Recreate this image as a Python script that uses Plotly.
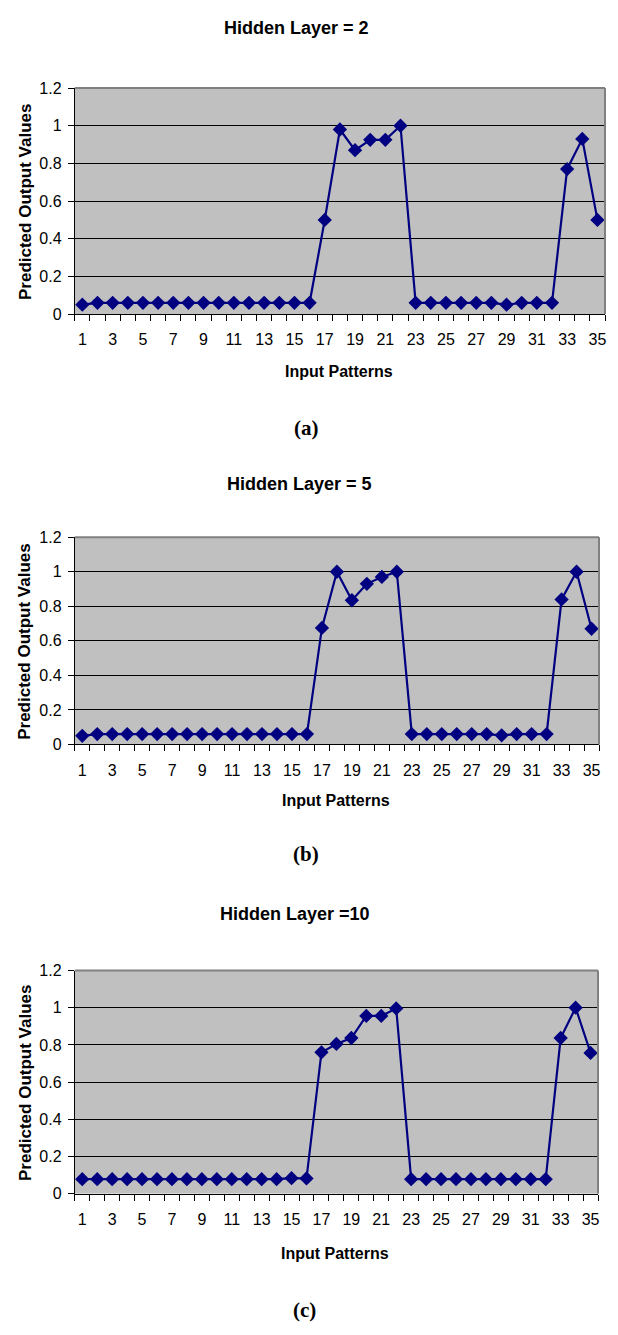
import plotly.graph_objects as go

patterns = list(range(1, 36))

hidden2 = [0.05, 0.06, 0.06, 0.06, 0.06, 0.06, 0.06, 0.06, 0.06, 0.06, 0.06, 0.06, 0.06, 0.06, 0.06, 0.06,
           0.50, 0.98, 0.87, 0.925, 0.925, 1.00,
           0.06, 0.06, 0.06, 0.06, 0.06, 0.06, 0.05, 0.06, 0.06, 0.06,
           0.77, 0.93, 0.50]
hidden5 = [0.05, 0.06, 0.06, 0.06, 0.06, 0.06, 0.06, 0.06, 0.06, 0.06, 0.06, 0.06, 0.06, 0.06, 0.06, 0.06,
           0.675, 1.00, 0.835, 0.93, 0.97, 1.00,
           0.06, 0.06, 0.06, 0.06, 0.06, 0.06, 0.053, 0.06, 0.06, 0.06,
           0.84, 1.00, 0.67]
hidden10 = [0.078, 0.078, 0.078, 0.078, 0.078, 0.078, 0.078, 0.078, 0.078, 0.078, 0.078, 0.078, 0.078, 0.078,
            0.083, 0.082,
            0.76, 0.805, 0.837, 0.956, 0.956, 0.996,
            0.078, 0.078, 0.078, 0.078, 0.078, 0.078, 0.078, 0.078, 0.078, 0.078,
            0.837, 1.00, 0.757]

series = [hidden2, hidden5, hidden10]
titles = ["Hidden Layer = 2", "Hidden Layer = 5", "Hidden Layer =10"]
captions = ["(a)", "(b)", "(c)"]
x_tick_vals = list(range(1, 36, 2))
x_tick_text = [str(v) for v in x_tick_vals]
y_tick_vals = [0, 0.2, 0.4, 0.6, 0.8, 1.0, 1.2]
y_tick_text = ["0", "0.2", "0.4", "0.6", "0.8", "1", "1.2"]
x_title = "Input Patterns"
y_title = "Predicted Output Values"

# page is 618x1335; the default body margin of 8px surrounds the figure
PAGE_W, PAGE_H, OFF = 618, 1335, 8
W, H = PAGE_W - 2 * OFF, PAGE_H - 2 * OFF


def px(x):
    return (x - OFF) / W


def py(y):
    return 1 - (y - OFF) / H


# page-pixel geometry of each panel: left, right, top, bottom of plot area
panels = [(75, 607, 81, 310), (75, 601, 536, 746), (75, 600, 975, 1201)]
title_y = [20, 482, 918]
title_x = [297, 300, 296]
xtitle_y = [368, 803, 1262]
xtitle_x = [340, 337, 336]
cap_y = [425, 857, 1319]
cap_x = [307, 307, 305]

SANS = "Liberation Sans, Arial, sans-serif"
SERIF = "Liberation Serif, Times New Roman, serif"
NAVY = "#000080"

fig = go.Figure()
annotations = []
shapes = []

for i, ys in enumerate(series):
    n = "" if i == 0 else str(i + 1)
    l, r, t, b = panels[i]
    fig.add_trace(go.Scatter(
        x=patterns, y=ys, mode="lines+markers",
        line=dict(color=NAVY, width=2.2),
        marker=dict(symbol="diamond", size=11, color=NAVY),
        xaxis="x" + n, yaxis="y" + n, showlegend=False,
        cliponaxis=False,
    ))
    fig.layout["xaxis" + n] = dict(
        domain=[px(l), px(r)], anchor="y" + n,
        range=[0.5, 35.5], tickmode="array", tickvals=x_tick_vals, ticktext=x_tick_text,
        ticks="", showgrid=False, zeroline=False,
        showline=True, linecolor="black", linewidth=1,
        tickfont=dict(family=SANS, size=16, color="black"),
        ticklabelstandoff=11,
        minor=dict(ticks="outside", tick0=0.5, dtick=1, ticklen=6, tickcolor="black",
                   tickwidth=1, showgrid=False),
        fixedrange=True,
    )
    fig.layout["yaxis" + n] = dict(
        domain=[py(b), py(t)], anchor="x" + n,
        range=[0, 1.2], tickmode="array", tickvals=y_tick_vals, ticktext=y_tick_text,
        ticks="outside", ticklen=6, tickcolor="black",
        showgrid=True, gridcolor="black", gridwidth=1, zeroline=False,
        showline=True, linecolor="black", linewidth=1,
        tickfont=dict(family=SANS, size=16, color="black"),
        ticklabelstandoff=3,
        fixedrange=True,
    )
    # grey frame on top and right
    shapes.append(dict(type="line", xref="x" + n + " domain", yref="y" + n + " domain",
                       x0=0, x1=1, y0=1, y1=1, line=dict(color="#808080", width=2)))
    shapes.append(dict(type="line", xref="x" + n + " domain", yref="y" + n + " domain",
                       x0=1, x1=1, y0=0, y1=1, line=dict(color="#808080", width=2)))
    annotations.append(dict(text="<b>" + titles[i] + "</b>", x=px(title_x[i]), y=py(title_y[i]),
                            xref="paper", yref="paper", showarrow=False, xanchor="center", yanchor="middle",
                            font=dict(family=SANS, size=18, color="black")))
    annotations.append(dict(text="<b>" + x_title + "</b>", x=px(xtitle_x[i]), y=py(xtitle_y[i]),
                            xref="paper", yref="paper", showarrow=False, xanchor="center", yanchor="middle",
                            font=dict(family=SANS, size=16, color="black")))
    annotations.append(dict(text="<b>" + y_title + "</b>", x=px(25), y=py((t + b) / 2),
                            xref="paper", yref="paper", showarrow=False, xanchor="center", yanchor="middle",
                            textangle=-90, font=dict(family=SANS, size=17, color="black")))
    annotations.append(dict(text="<b>" + captions[i] + "</b>", x=px(cap_x[i]), y=py(cap_y[i]),
                            xref="paper", yref="paper", showarrow=False, xanchor="center", yanchor="middle",
                            font=dict(family=SERIF, size=21, color="black")))

fig.update_layout(
    width=W, height=H, autosize=False,
    margin=dict(l=0, r=0, t=0, b=0),
    paper_bgcolor="white", plot_bgcolor="#C0C0C0",
    annotations=annotations, shapes=shapes,
    showlegend=False,
)

fig.write_html("out.html")
